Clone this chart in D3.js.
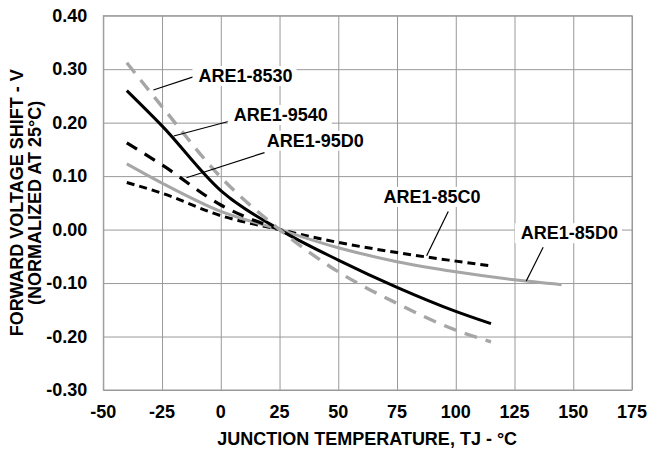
<!DOCTYPE html>
<html>
<head>
<meta charset="utf-8">
<script src="https://cdn.jsdelivr.net/npm/d3@7"></script>
<style>
    body { margin: 0; background: #fff; }
    text { font-family: "Liberation Sans", Arial, sans-serif; font-weight: bold; }
    .grid line, .grid path { stroke: #999; stroke-width: 1; }
</style>
</head>
<body>
<script>
// values
const xTicks = [-50, -25, 0, 25, 50, 75, 100, 125, 150, 175];
const yTicks = [0.40, 0.30, 0.20, 0.10, 0.00, -0.10, -0.20, -0.30];

const temps = [-40, -25, 0, 25, 50, 75, 100, 115];
const temps85D0 = [-40, -25, 0, 25, 50, 75, 100, 125, 145];
const temps95D0 = [-40, -25, 0, 25];

const v8530 = [0.312, 0.230, 0.098, 0, -0.079, -0.138, -0.188, -0.210];
const v9540 = [0.260, 0.194, 0.073, 0, -0.057, -0.108, -0.153, -0.176];
const v95D0 = [0.162, 0.121, 0.046, 0];
const v85C0 = [0.088, 0.068, 0.026, 0, -0.024, -0.043, -0.059, -0.068];
const v85D0 = [0.123, 0.087, 0.034, 0, -0.034, -0.060, -0.079, -0.094, -0.103];

const series = [
    {name: 'ARE1-85C0', t: temps, v: v85C0, color: '#000', dash: '8,5', w: 3},
    {name: 'ARE1-85D0', t: temps85D0, v: v85D0, color: '#a6a6a6', dash: null, w: 3},
    {name: 'ARE1-95D0', t: temps95D0, v: v95D0, color: '#000', dash: '12,9', w: 3.2},
    {name: 'ARE1-9540', t: temps, v: v9540, color: '#000', dash: null, w: 3},
    {name: 'ARE1-8530', t: temps, v: v8530, color: '#a6a6a6', dash: '13,9', w: 3.4}
];

// label callouts: text position (data units) and leader end on the curve
const callouts = [
    {name: 'ARE1-8530', at: [-9.5, 0.276], from: [-28.7, 0.261], to: [-11.4, 0.286]},
    {name: 'ARE1-9540', at: [5.5, 0.203], from: [-20, 0.175], to: [4, 0.203]},
    {name: 'ARE1-95D0', at: [19.6, 0.155], from: [-14.6, 0.097], to: [18.6, 0.144]},
    {name: 'ARE1-85C0', at: [69.2, 0.050], from: [87.6, -0.049], to: [96.8, 0.034]},
    {name: 'ARE1-85D0', at: [127.7, -0.018], from: [130, -0.096], to: [137.2, -0.033]}
];

const svgWidth = 647;
const svgHeight = 449;
const margin = {T: 15.7, R: 15, B: 59, L: 103.3};
const width = 528.7;
const height = 374.3;

const svg = d3.select('body').append('svg')
    .attr('width', svgWidth)
    .attr('height', svgHeight);

const g = svg.append('g')
    .attr('transform', `translate(${margin.L},${margin.T})`);

const x = d3.scaleLinear().domain([-50, 175]).range([0, width]);
const y = d3.scaleLinear().domain([-0.30, 0.40]).range([height, 0]);

// grid
g.append('g').classed('grid', true)
    .attr('transform', `translate(0,${height})`)
    .call(d3.axisBottom(x).tickValues(xTicks).tickSize(-height).tickFormat(''))
    .call(a => a.select('.domain').remove());
g.append('g').classed('grid', true)
    .call(d3.axisLeft(y).tickValues(yTicks).tickSize(-width).tickFormat(''))
    .call(a => a.select('.domain').remove());
g.append('rect')
    .attr('width', width).attr('height', height)
    .attr('fill', 'none').attr('stroke', '#999');

// tick labels
g.append('g').selectAll('text')
    .data(xTicks)
    .join('text')
    .attr('x', d => x(d))
    .attr('y', height + 28)
    .attr('text-anchor', 'middle')
    .attr('font-size', 18)
    .text(d => d);
g.append('g').selectAll('text')
    .data(yTicks)
    .join('text')
    .attr('x', -16)
    .attr('y', d => y(d))
    .attr('dy', '0.35em')
    .attr('text-anchor', 'end')
    .attr('font-size', 18)
    .text(d => d.toFixed(2));

// axis titles
g.append('text')
    .attr('x', width / 2 - 0.5)
    .attr('y', height + 55)
    .attr('text-anchor', 'middle')
    .attr('font-size', 18)
    .text('JUNCTION TEMPERATURE, TJ - °C');
const yTitle = g.append('text')
    .attr('transform', `translate(-80,${height / 2}) rotate(-90)`)
    .attr('text-anchor', 'middle')
    .attr('font-size', 18);
yTitle.append('tspan').attr('x', 0).attr('dy', 0).text('FORWARD VOLTAGE SHIFT - V');
yTitle.append('tspan').attr('x', 0).attr('dy', 18).text('(NORMALIZED AT 25°C)');

// white boxes behind labels
const labelG = g.append('g');
callouts.forEach(c => {
    const t = labelG.append('text')
        .attr('x', x(c.at[0]))
        .attr('y', y(c.at[1]))
        .attr('font-size', 18)
        .text(c.name);
    const bb = t.node().getBBox();
    labelG.insert('rect', 'text')
        .attr('x', bb.x - 6).attr('y', bb.y)
        .attr('width', bb.width + 10).attr('height', bb.height)
        .attr('fill', '#fff');
});

// curves
const line = d3.line()
    .x(d => x(d[0]))
    .y(d => y(d[1]))
    .curve(d3.curveMonotoneX);

g.append('g').selectAll('path')
    .data(series)
    .join('path')
    .attr('d', s => line(s.t.map((t, i) => [t, s.v[i]])))
    .attr('fill', 'none')
    .attr('stroke', s => s.color)
    .attr('stroke-width', s => s.w)
    .attr('stroke-dasharray', s => s.dash);

// leader lines
g.append('g').selectAll('line')
    .data(callouts)
    .join('line')
    .attr('x1', c => x(c.from[0])).attr('y1', c => y(c.from[1]))
    .attr('x2', c => x(c.to[0])).attr('y2', c => y(c.to[1]))
    .attr('stroke', '#000')
    .attr('stroke-width', 1.2);

labelG.raise();
</script>
</body>
</html>
